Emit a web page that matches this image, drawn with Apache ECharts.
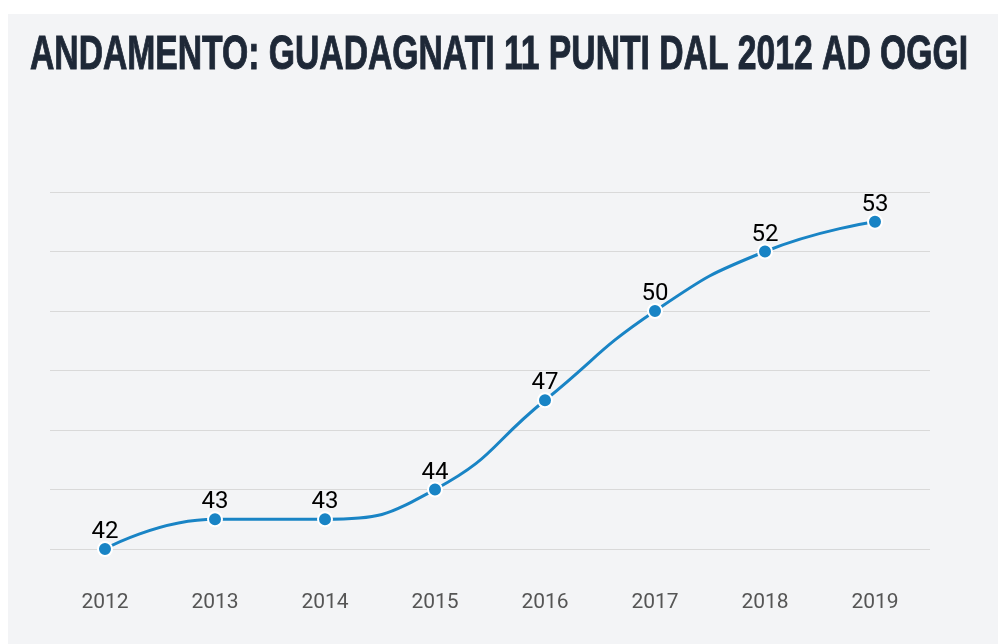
<!DOCTYPE html>
<html>
<head>
<meta charset="utf-8">
<script src="https://cdn.jsdelivr.net/npm/echarts@6/dist/echarts.min.js"></script>
<style>
  html, body { margin: 0; padding: 0; background: #ffffff; }
  #chart { width: 998px; height: 644px; }
</style>
</head>
<body>
<div id="chart"></div>
<script>
// dati
const titleText = 'ANDAMENTO: GUADAGNATI 11 PUNTI DAL 2012 AD OGGI';
const years = ['2012', '2013', '2014', '2015', '2016', '2017', '2018', '2019'];
const values = [42, 43, 43, 44, 47, 50, 52, 53];
const yMin = 42, yMax = 54, yStep = 2;

// larghezza del titolo: comprimo il testo per stare in 938px
const titleFont = 'bold 49px "Liberation Sans Narrow", "Liberation Sans", sans-serif';
const ctx = document.createElement('canvas').getContext('2d');
ctx.font = titleFont;
const titleScale = 938 / ctx.measureText(titleText).width;

const chart = echarts.init(document.getElementById('chart'));

chart.setOption({
  backgroundColor: '#ffffff',
  animation: false,
  graphic: [
    {
      type: 'rect', z: -10, silent: true,
      shape: { x: 8, y: 14, width: 990, height: 630 },
      style: { fill: '#f3f4f6' }
    },
    {
      type: 'text', x: 30, y: 31, scaleX: titleScale,
      style: {
        text: titleText,
        fill: '#1e2837',
        fontSize: 49,
        fontWeight: 'bold',
        fontFamily: '"Liberation Sans Narrow", "Liberation Sans", sans-serif',
        stroke: '#1e2837',
        lineWidth: 1
      }
    }
  ],
  grid: { left: 50, right: 68, top: 192, bottom: 95 },
  xAxis: {
    type: 'category',
    data: years,
    boundaryGap: true,
    axisLine: { show: false },
    axisTick: { show: false },
    axisLabel: { color: '#555555', fontSize: 21, margin: 43, fontFamily: 'Roboto' }
  },
  yAxis: {
    type: 'value',
    min: yMin, max: yMax, interval: yStep,
    axisLabel: { show: false },
    axisLine: { show: false },
    axisTick: { show: false },
    splitLine: { lineStyle: { color: '#d9d9d9', width: 1 } }
  },
  series: [{
    type: 'line',
    data: values,
    smooth: 0.5,
    symbol: 'circle',
    symbolSize: 14,
    lineStyle: { color: '#1984c5', width: 3 },
    itemStyle: { color: '#1984c5', borderColor: '#ffffff', borderWidth: 2 },
    label: {
      show: true, position: 'top', distance: -3,
      color: '#000000', fontSize: 24, fontFamily: 'Roboto'
    }
  }]
});
</script>
</body>
</html>
